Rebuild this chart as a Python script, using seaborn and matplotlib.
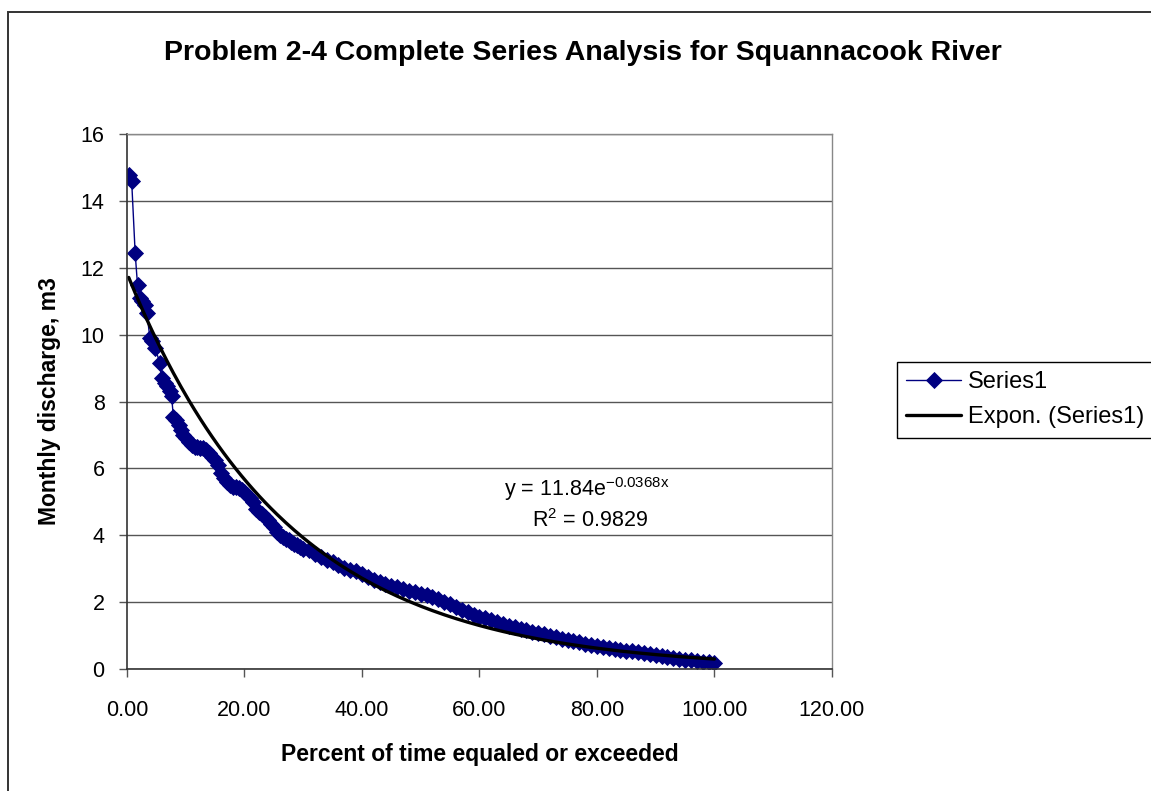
"""
Flow-duration curve, Squannacook River — complete series analysis (Problem 2-4).
Monthly discharge vs percent of time equaled or exceeded, with Excel-style
exponential trendline.
"""
import numpy as np
import pandas as pd
import matplotlib
matplotlib.use("Agg")
import matplotlib.pyplot as plt
from matplotlib.patches import Rectangle
from matplotlib.ticker import FormatStrFormatter, MultipleLocator
import seaborn as sns

sns.set_theme(style="white")
plt.rcParams["font.family"] = ["Liberation Sans", "DejaVu Sans"]
plt.rcParams["mathtext.fontset"] = "custom"
plt.rcParams["mathtext.rm"] = "Liberation Sans"
plt.rcParams["mathtext.default"] = "regular"
plt.rcParams["text.color"] = "black"
plt.rcParams["axes.labelcolor"] = "black"

# %% data
PCT_EXCEEDED = [
    0.3, 0.8, 1.4, 1.8, 2.2, 2.6, 3.0, 3.4, 3.9, 4.3, 4.8, 5.6, 5.9, 6.4,
    6.8, 7.3, 7.6, 7.9,
    8.3, 8.8, 9.2, 9.6, 10.0, 10.5, 11.0, 11.5, 12.0, 12.5, 13.0, 13.5,
    14.0, 14.5, 15.0, 15.5, 16.0, 16.5, 17.0, 17.5, 18.0, 18.5, 19.0, 19.5,
    20.0, 20.5, 21.0, 21.5, 22.0, 22.5, 23.0, 23.5, 24.0, 24.5, 25.0, 25.5,
    26.0, 26.5, 27.0, 27.5, 28.0, 28.5, 29.0, 29.5, 30.0,
    31, 32, 33, 34, 35, 36, 37, 38, 39, 40, 41, 42, 43, 44, 45, 46, 47, 48,
    49, 50, 51, 52, 53, 54, 55, 56, 57, 58, 59, 60, 61, 62, 63, 64, 65, 66,
    67, 68, 69, 70, 71, 72, 73, 74, 75, 76, 77, 78, 79, 80, 81, 82, 83, 84,
    85, 86, 87, 88, 89, 90, 91, 92, 93, 94, 95, 96, 97, 98, 99, 100,
]
DISCHARGE = [
    14.77, 14.6, 12.43, 11.48, 11.1, 11.0, 10.9, 10.65, 9.9, 9.8, 9.6, 9.15,
    8.7, 8.55, 8.45, 8.3, 8.15, 7.55,
    7.45, 7.3, 7.15, 7.0, 6.9, 6.8, 6.7, 6.65, 6.65, 6.6, 6.6, 6.55,
    6.45, 6.35, 6.25, 6.1, 5.85, 5.7, 5.6, 5.5, 5.45, 5.45, 5.4, 5.35,
    5.3, 5.2, 5.1, 5.0, 4.8, 4.7, 4.65, 4.55, 4.45, 4.35, 4.25, 4.1,
    4.0, 3.95, 3.9, 3.85, 3.8, 3.75, 3.7, 3.65, 3.6,
    3.55, 3.45, 3.35, 3.27, 3.2, 3.1, 3.02, 2.97, 2.92, 2.85, 2.75, 2.65,
    2.6, 2.55, 2.48, 2.45, 2.38, 2.32, 2.3, 2.25, 2.2, 2.15, 2.08, 2.0,
    1.93, 1.85, 1.78, 1.7, 1.62, 1.57, 1.53, 1.47, 1.4, 1.35, 1.3, 1.25,
    1.2, 1.16, 1.12, 1.08, 1.04, 1.0, 0.96, 0.9, 0.87, 0.84, 0.8, 0.75,
    0.72, 0.68, 0.65, 0.62, 0.6, 0.58, 0.55, 0.53, 0.5, 0.48, 0.45, 0.43,
    0.4, 0.37, 0.34, 0.31, 0.28, 0.26, 0.24, 0.22, 0.2, 0.17,
]
# exponential trendline as printed on the chart: y = 11.84 e^(-0.0368x)
FIT_A = 11.84
FIT_B = -0.0368
FIT_R2 = 0.9829

NAVY = "#000080"

df = pd.DataFrame({"pct": PCT_EXCEEDED, "q": DISCHARGE})
trend = pd.DataFrame({"pct": df["pct"]})
trend["q"] = FIT_A * np.exp(FIT_B * trend["pct"])

# %% figure
fig = plt.figure(figsize=(11.51, 7.91), dpi=100)
ax = fig.add_axes([0.1103, 0.1542, 0.6125, 0.6764])

sns.lineplot(data=df, x="pct", y="q", ax=ax, sort=False, estimator=None,
             color=NAVY, linewidth=1.0, marker="D", markersize=8,
             markeredgecolor=NAVY, markeredgewidth=0.6, label="Series1")
sns.lineplot(data=trend, x="pct", y="q", ax=ax, sort=False, estimator=None,
             color="black", linewidth=2.4, label="Expon. (Series1)")

ax.set_xlim(0, 120)
ax.set_ylim(0, 16)
ax.xaxis.set_major_locator(MultipleLocator(20))
ax.yaxis.set_major_locator(MultipleLocator(2))
ax.xaxis.set_major_formatter(FormatStrFormatter("%.2f"))
ax.grid(axis="y", color="#555555", linewidth=1.0)
ax.grid(axis="x", visible=False)
ax.set_axisbelow(True)
for side in ["left", "bottom"]:
    ax.spines[side].set_color("#333333")
    ax.spines[side].set_linewidth(1.2)
for side in ["right", "top"]:
    ax.spines[side].set_color("#888888")
    ax.spines[side].set_linewidth(1.0)
ax.tick_params(axis="both", direction="out", length=6, width=1.0,
               color="#555555", labelsize=15.5, labelcolor="black",
               bottom=True, left=True)
ax.tick_params(axis="x", pad=16)
ax.tick_params(axis="y", pad=10)

ax.set_xlabel("Percent of time equaled or exceeded", fontsize=16.5,
              fontweight="bold", labelpad=16)
ax.set_ylabel("Monthly discharge, m3", fontsize=16.5, fontweight="bold",
              labelpad=14)

ax.text(0.652, 0.337, f"y = {FIT_A:.2f}e$^{{{FIT_B:.4f}x}}$",
        transform=ax.transAxes, ha="center", va="center", fontsize=15.5)
ax.text(0.657, 0.277, f"R$^{{2}}$ = {FIT_R2:.4f}", transform=ax.transAxes,
        ha="center", va="center", fontsize=15.5)

fig.suptitle("Problem 2-4 Complete Series Analysis for Squannacook River",
             x=0.506, y=0.933, va="center", fontsize=20.5, fontweight="bold")

leg = ax.legend(loc="upper left", bbox_to_anchor=(897 / 1151, 1 - 362 / 791),
                bbox_transform=fig.transFigure, fontsize=17, frameon=True,
                fancybox=False, shadow=False, borderpad=0.4,
                labelspacing=0.55, handlelength=2.3, handletextpad=0.3,
                borderaxespad=0)
leg.get_frame().set_edgecolor("black")
leg.get_frame().set_linewidth(1.0)
leg.get_frame().set_alpha(1)

# chart-area border (runs off the right and bottom edges like the original)
fig.patches.append(Rectangle((8 / 1151, -0.2), 1.2, 1.2 - 12 / 791,
                             transform=fig.transFigure, fill=False,
                             edgecolor="#333333", linewidth=1.4))

fig.savefig("out.png", dpi=100)
plt.close(fig)
